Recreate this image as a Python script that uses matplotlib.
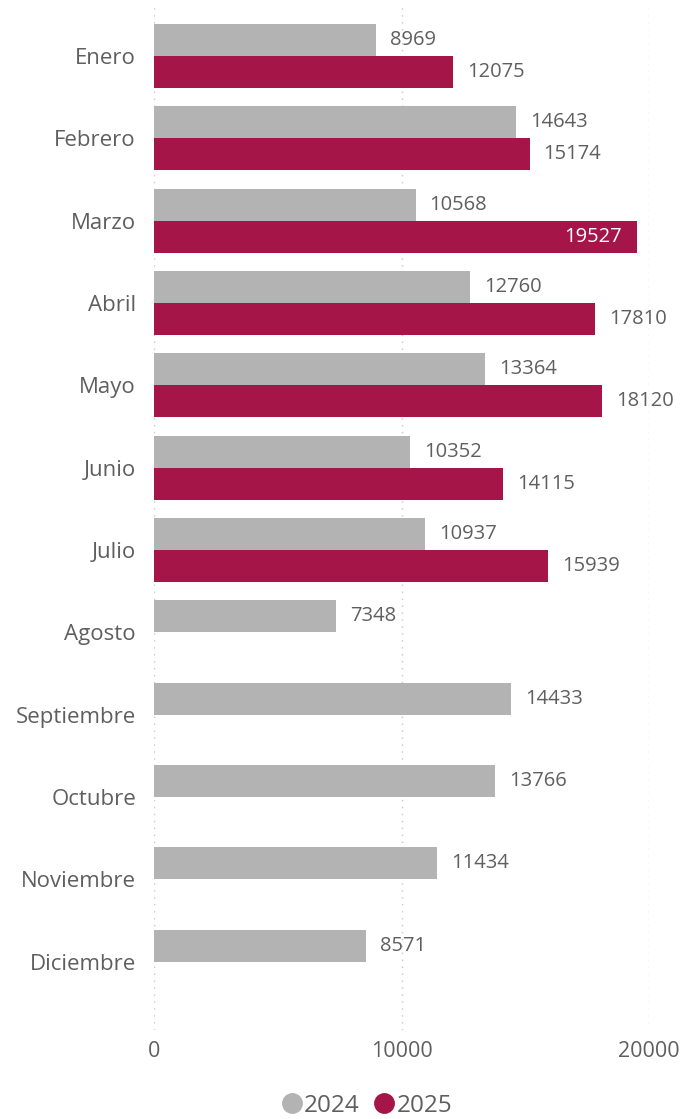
import numpy as np
import matplotlib.pyplot as plt
from matplotlib.lines import Line2D

months = ['Enero', 'Febrero', 'Marzo', 'Abril', 'Mayo', 'Junio', 'Julio',
          'Agosto', 'Septiembre', 'Octubre', 'Noviembre', 'Diciembre']
v2024 = [8969, 14643, 10568, 12760, 13364, 10352, 10937, 7348, 14433, 13766, 11434, 8571]
v2025 = [12075, 15174, 19527, 17810, 18120, 14115, 15939]
xticks = [0, 10000, 20000]

GRAY = '#b3b3b3'
RED = '#a51547'
TXT = '#5f5f5f'

plt.rcParams['font.family'] = ['Open Sans', 'DejaVu Sans']

fig = plt.figure(figsize=(6.81, 11.19), dpi=100)
W, H = 681, 1119
ax = fig.add_axes([154 / W, 1 - 1030 / H, (649 - 154) / W, (1030 - 5) / H])

y = np.arange(len(months))
bh = 0.39
ax.barh(y - bh / 2, v2024, height=bh, color=GRAY)
y25 = y[:len(v2025)]
ax.barh(y25 + bh / 2, v2025, height=bh, color=RED)

for yi, v in zip(y, v2024):
    ax.annotate(str(v), (v, yi - bh / 2), xytext=(14, 0), textcoords='offset pixels',
                ha='left', va='center', fontsize=14.5, color=TXT, annotation_clip=False)
for yi, v in zip(y25, v2025):
    if v > 19000:
        ax.annotate(str(v), (v, yi + bh / 2), xytext=(-15, 0), textcoords='offset pixels',
                    ha='right', va='center', fontsize=14.5, color='white')
    else:
        ax.annotate(str(v), (v, yi + bh / 2), xytext=(14, 0), textcoords='offset pixels',
                    ha='left', va='center', fontsize=14.5, color=TXT, annotation_clip=False)

ax.set_xlim(0, 20000)
ax.set_ylim(11.83, -0.62)
ax.set_yticks(y)
ax.set_yticklabels(months, fontsize=16, color=TXT)
ax.set_xticks(xticks)
ax.set_xticklabels([str(t) for t in xticks], fontsize=15.5, color=TXT)
ax.tick_params(axis='both', length=0)
ax.tick_params(axis='y', pad=13)
ax.tick_params(axis='x', pad=8)
for s in ax.spines.values():
    s.set_visible(False)
for t in xticks:
    ax.axvline(t, color='#c8c8c8', linestyle=(0, (1, 4)), linewidth=1, zorder=0)

handles = [Line2D([], [], marker='o', linestyle='', markersize=14, color=GRAY),
           Line2D([], [], marker='o', linestyle='', markersize=14, color=RED)]
fig.legend(handles, ['2024', '2025'], loc='center', bbox_to_anchor=(366 / W, 1 - 1106 / H),
           ncol=2, frameon=False, fontsize=17.5, labelcolor=TXT,
           handletextpad=0.0, columnspacing=0.5, handlelength=1.0,
           borderpad=0, borderaxespad=0)

fig.savefig('out.png', dpi=100)
